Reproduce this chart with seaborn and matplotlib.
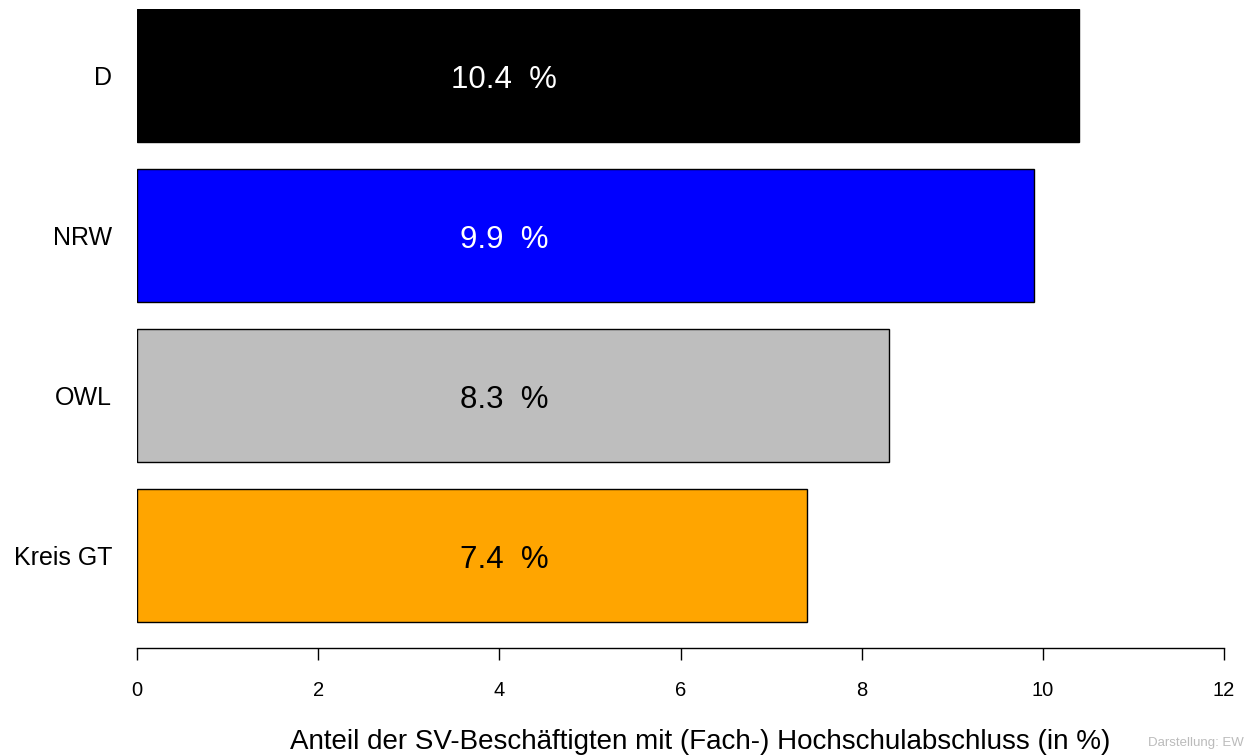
import matplotlib
matplotlib.use("Agg")
import matplotlib.pyplot as plt
import seaborn as sns

# regions and share of employees with (Fach-) Hochschulabschluss
regions = ["D", "NRW", "OWL", "Kreis GT"]
shares = [10.4, 9.9, 8.3, 7.4]
bar_colors = ["#000000", "#0000FF", "#BEBEBE", "#FFA500"]
label_colors = ["white", "white", "black", "black"]
xticks = [0, 2, 4, 6, 8, 10, 12]

sns.set_style("white")
plt.rcParams["font.family"] = ["Liberation Sans", "DejaVu Sans"]
plt.rcParams["text.color"] = "black"
plt.rcParams["xtick.color"] = "black"
plt.rcParams["ytick.color"] = "black"
plt.rcParams["axes.labelcolor"] = "black"

fig = plt.figure(figsize=(12.46, 7.55), dpi=100)
ax = fig.add_axes([137 / 1246, 107 / 755, 1087 / 1246, 639 / 755])

sns.barplot(x=shares, y=regions, hue=regions, palette=bar_colors, legend=False,
            saturation=1, width=0.83, edgecolor="black", linewidth=1, orient="h", ax=ax)

#value labels in the bars
for i, (v, c) in enumerate(zip(shares, label_colors)):
  ax.text(4.05, i + 0.03, f"{v}  %", color=c, fontsize=22.5, ha="center", va="center")

ax.set_xlim(0, 12)
ax.set_ylim(3.578, -0.416)
ax.set_xticks(xticks)
ax.set_xticklabels([str(t) for t in xticks])
sns.despine(ax=ax, left=True, top=True, right=True)
ax.spines["bottom"].set_linewidth(1)
ax.spines["bottom"].set_color("black")
ax.tick_params(axis="x", length=8.5, width=1, color="black", pad=15, labelsize=14.5, bottom=True)
ax.tick_params(axis="y", length=0, pad=18, labelsize=18)
ax.set_ylabel("")
ax.set_xlabel("Anteil der SV-Beschäftigten mit (Fach-) Hochschulabschluss (in %)", fontsize=20)
ax.xaxis.set_label_coords(0.518, -0.147)
ax.xaxis.label.set_va("center")

fig.text(1244 / 1246, 12 / 755, "Darstellung: EW", color="#BBBBBB", fontsize=9.5, ha="right", va="center")

fig.savefig("out.png", dpi=100)
